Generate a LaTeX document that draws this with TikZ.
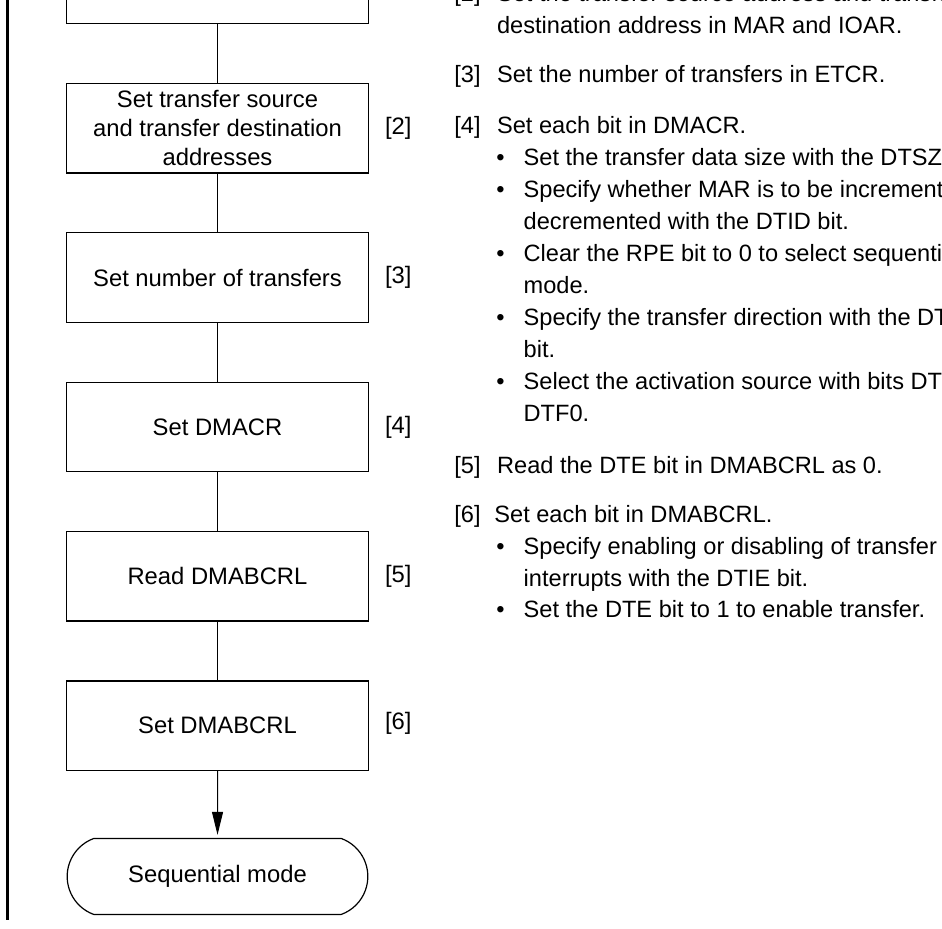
\documentclass[tikz,border=0pt]{standalone}
\usepackage{fontspec}
\setmainfont{Liberation Sans}
\usepackage{tikz}
\usetikzlibrary{positioning, shapes.misc, arrows.meta}

\newcommand\boxfont{\fontsize{11.9pt}{14.5pt}\selectfont}
\newcommand\notefont{\fontsize{11.8pt}{15.9pt}\selectfont}

\tikzset{
  proc/.style={draw, line width=0.6pt, minimum width=151.35pt, minimum height=44.75pt, align=center, font=\boxfont},
  term/.style={draw, rounded rectangle, rounded rectangle arc length=140, line width=0.6pt, minimum width=157pt, minimum height=38pt, font=\boxfont},
  tag/.style={inner sep=0pt, anchor=west, font=\boxfont},
  txt/.style={inner sep=0pt, anchor=base west, font=\notefont},
}

\begin{document}
\begin{tikzpicture}[x=0.5pt, y=-0.5pt, node distance=74.67pt, on grid]
            \useasboundingbox (0,0) rectangle (942,929);
            \clip (0,0) rectangle (942,929);

            % frame rule on the left
            \draw[line width=1.2pt] (7.5,-10) -- (7.5,920);

            % flow of boxes
            \node [proc] (b2) at (217.5,128.3) {Set transfer source\\and transfer destination\\addresses};
            \node [proc] [above =of b2] (b1) {};
            \node [proc] [below =of b2] (b3) {Set number of transfers};
            \node [proc] [below =of b3] (b4) {Set DMACR};
            \node [proc] [below =of b4] (b5) {Read DMABCRL};
            \node [proc] [below =of b5] (b6) {Set DMABCRL};
            \node [term] [below =75.4pt of b6] (done) {Sequential mode};

            \node [tag] at ([xshift=7.6pt]b2.east) (t2) {[2]};
            \node [tag] at ([xshift=7.6pt]b3.east) (t3) {[3]};
            \node [tag] at ([xshift=7.6pt]b4.east) (t4) {[4]};
            \node [tag] at ([xshift=7.6pt]b5.east) (t5) {[5]};
            \node [tag] at ([xshift=7.6pt,yshift=1pt]b6.east) (t6) {[6]};

            \path[draw, line width=0.5pt]
            	(b1) -- (b2)
            	(b2) -- (b3)
            	(b3) -- (b4)
            	(b4) -- (b5)
            	(b5) -- (b6);
            \draw[line width=0.5pt, shorten >=1.5pt, -{Triangle[length=11.5pt, width=5.5pt]}] (b6) -- (done);

            % notes on each step
            \node [txt] (n2) at (454,1.5) {[2]};
            \node [txt] (n2a) at (496.7,1.5) {Set the transfer source address and transfer};
            \node [txt] (n2b) at (496.7,33.3) {destination address in MAR and IOAR.};

            \node [txt] (n3) at (454,82.7) {[3]};
            \node [txt] (n3a) at (496.7,82.7) {Set the number of transfers in ETCR.};

            \node [txt] (n4) at (454,134) {[4]};
            \node [txt] (n4a) at (496.7,134) {Set each bit in DMACR.};
            \node [txt] (p4a) at (496,165.7) {\textbullet};
            \node [txt] (n4b) at (523.3,165.7) {Set the transfer data size with the DTSZ bit.};
            \node [txt] (p4b) at (496,197.3) {\textbullet};
            \node [txt] (n4c) at (523.3,197.3) {Specify whether MAR is to be incremented or};
            \node [txt] (n4d) at (523.3,229.3) {decremented with the DTID bit.};
            \node [txt] (p4c) at (496,261.7) {\textbullet};
            \node [txt] (n4e) at (523.3,261.7) {Clear the RPE bit to 0 to select sequential};
            \node [txt] (n4f) at (523.3,293.3) {mode.};
            \node [txt] (p4d) at (496,325.5) {\textbullet};
            \node [txt] (n4g) at (523.3,325.5) {Specify the transfer direction with the DTDIR};
            \node [txt] (n4h) at (523.3,357.7) {bit.};
            \node [txt] (p4e) at (496,390) {\textbullet};
            \node [txt] (n4i) at (523.3,390) {Select the activation source with bits DTF3 to};
            \node [txt] (n4j) at (523.3,421.7) {DTF0.};

            \node [txt] (n5) at (454,473.3) {[5]};
            \node [txt] (n5a) at (496.7,473.3) {Read the DTE bit in DMABCRL as 0.};

            \node [txt] (n6) at (454,522.3) {[6]};
            \node [txt] (n6a) at (494,522.3) {Set each bit in DMABCRL.};
            \node [txt] (p6a) at (496,554.5) {\textbullet};
            \node [txt] (n6b) at (523.3,554.5) {Specify enabling or disabling of transfer};
            \node [txt] (n6c) at (523.3,586.7) {interrupts with the DTIE bit.};
            \node [txt] (p6b) at (496,617.7) {\textbullet};
            \node [txt] (n6d) at (523.3,617.7) {Set the DTE bit to 1 to enable transfer.};
            \end{tikzpicture}
\end{document}
